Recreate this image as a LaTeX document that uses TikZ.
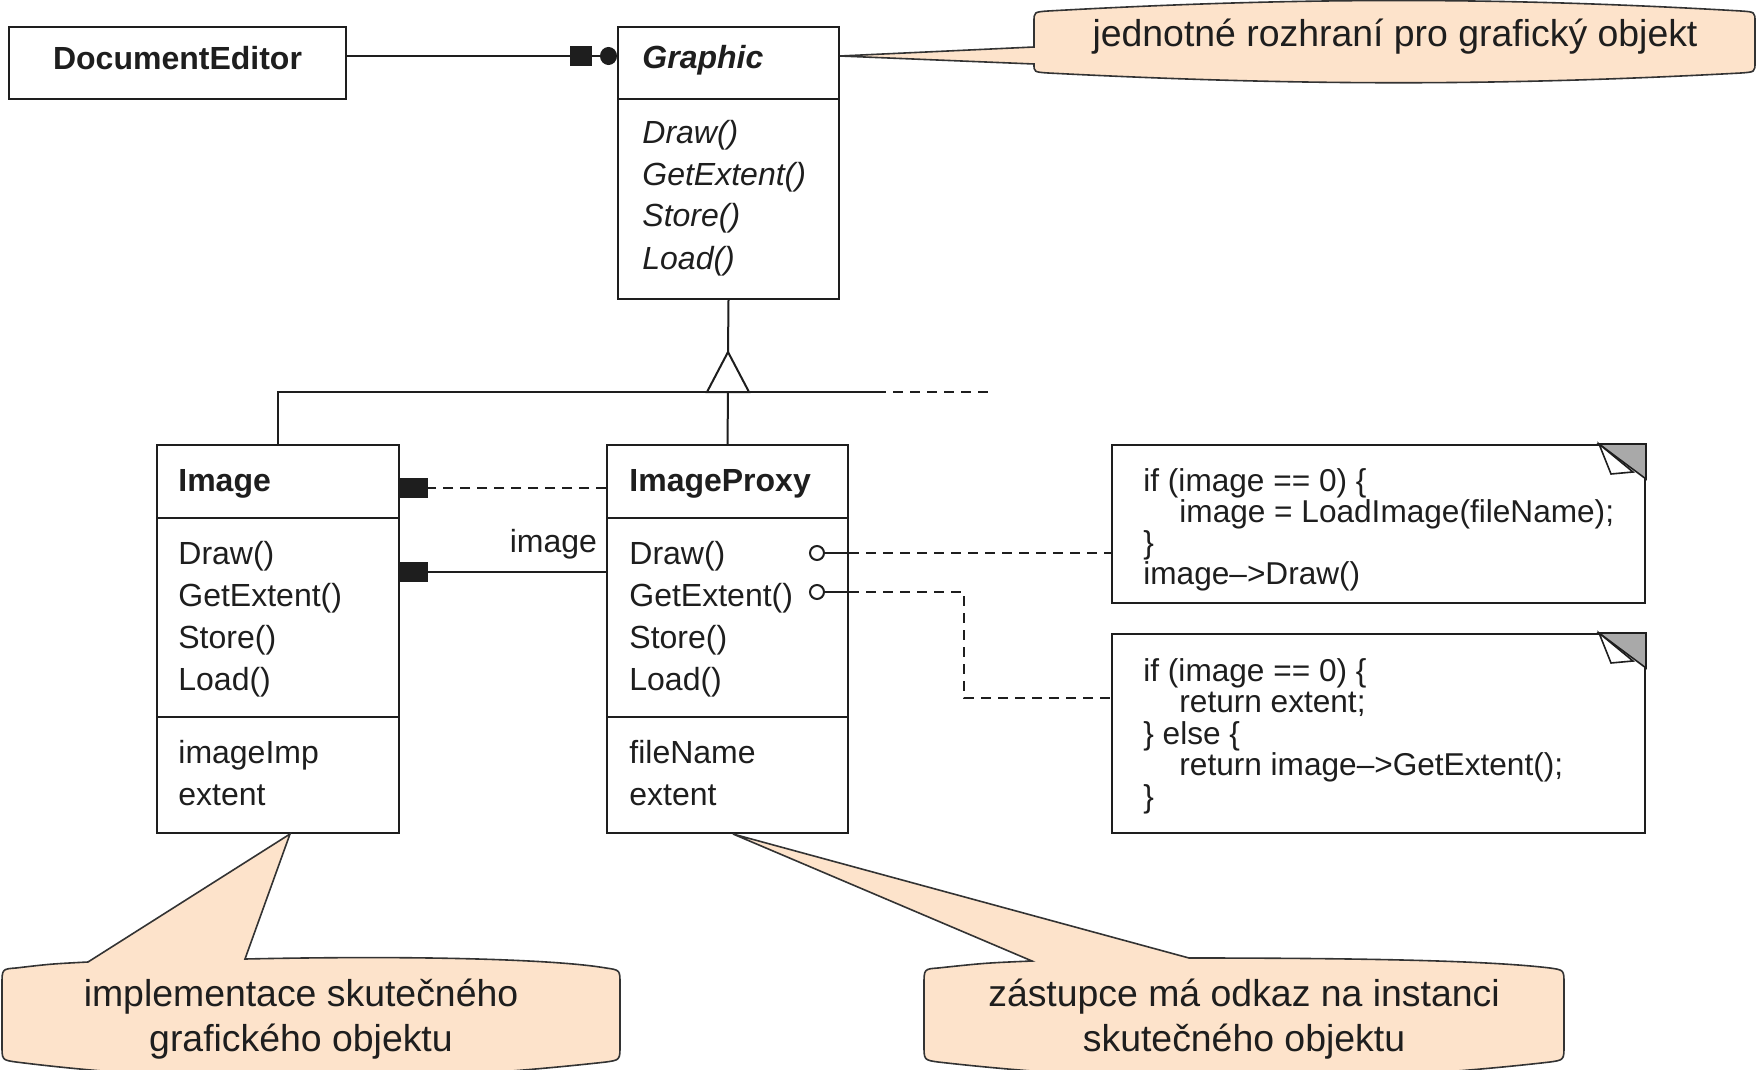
\documentclass[tikz,border=0pt]{standalone}
\usepackage{fontspec}
\setmainfont{Liberation Sans}
\usetikzlibrary{arrows.meta,fit}
\definecolor{umlink}{HTML}{1E1E1E}
\definecolor{calloutfill}{HTML}{FDE3CB}
\definecolor{calloutdraw}{HTML}{333333}
\definecolor{foldgray}{HTML}{A9A9A9}

\begin{document}
\begin{tikzpicture}[
    x=0.5pt, y=-0.5pt,
    every node/.style={text=umlink},
    box/.style={
        draw=umlink,
        line width=1pt,
        inner sep=0pt,
        fit={#1}
    },
    note/.style={
        box={#1},
        fill=white
    },
    member/.style={
        anchor=base west,
        inner sep=0pt,
        font=\fontsize{16}{19}\selectfont
    },
    opname/.style={
        member,
        font=\fontsize{16}{19}\selectfont\itshape
    },
    clsname/.style={
        member,
        font=\fontsize{16}{19}\selectfont\bfseries
    },
    codeline/.style={
        member,
        font=\fontsize{15.8}{18}\selectfont
    },
    lbl/.style={
        inner sep=0pt,
        font=\fontsize{16}{19}\selectfont
    },
    stub/.style={
        circle,
        draw=umlink,
        line width=1pt,
        fill=white,
        minimum size=7pt,
        inner sep=0pt
    },
    assoc/.style={
        draw=umlink,
        line width=1pt
    },
    refarrow/.style={
        assoc,
        -{Square[length=14pt,width=10pt]}
    },
    aggarrow/.style={
        assoc,
        -{Square[length=11pt,width=10pt,sep=4pt] Circle[length=8.5pt,width=9pt]}
    },
    noteline/.style={
        assoc,
        dash pattern=on 5pt off 3.5pt
    },
    calloutbody/.style={
        draw=calloutdraw,
        line width=0.8pt,
        fill=calloutfill
    },
    calltext/.style={
        align=center,
        inner sep=0pt,
        font=\fontsize{18.7}{22.5}\selectfont
    }
]

\path[use as bounding box, fill=white] (0,0) rectangle (1762,1070);

% classes
\node[box={(9,27) (346,99)}] (editor) {};
\node[clsname, anchor=center] (editortitle) at ([yshift=2.5pt]editor.center) {DocumentEditor};

\node[box={(618,27) (839,99)}] (graphic) {};
\node[box={(618,99) (839,299)}] (graphicops) {};
\node[clsname, font=\fontsize{16}{19}\selectfont\bfseries\itshape] (graphictitle) at (642,69) {Graphic};
\foreach \txt [count=\i] in {Draw(), GetExtent(), Store(), Load()}
    \node[opname] (gop\i) at (642,101+42*\i) {\txt};

\node[box={(157,445) (399,518)}] (image) {};
\node[box={(157,518) (399,717)}] (imageops) {};
\node[box={(157,717) (399,833)}] (imageattrs) {};
\node[clsname] (imagetitle) at (178,491) {Image};

\node[box={(607,445) (848,518)}] (proxy) {};
\node[box={(607,518) (848,717)}] (proxyops) {};
\node[box={(607,717) (848,833)}] (proxyattrs) {};
\node[clsname] (proxytitle) at (629,491) {ImageProxy};

\foreach \cls/\x in {image/178, proxy/629} {
    \foreach \txt [count=\i] in {Draw(), GetExtent(), Store(), Load()}
        \node[member] (\cls op\i) at (\x,522+42*\i) {\txt};
}
\foreach \txt [count=\i] in {imageImp, extent}
    \node[member] (imageattr\i) at (178,721+42*\i) {\txt};
\foreach \txt [count=\i] in {fileName, extent}
    \node[member] (proxyattr\i) at (629,721+42*\i) {\txt};

% notes
\node[note={(1112,445) (1645,603)}] (drawnote) {};
\node[note={(1112,634) (1645,833)}] (extentnote) {};
\foreach \n in {drawnote, extentnote} {
    \filldraw[fill=foldgray, draw=umlink, line width=0.8pt]
        ([xshift=-23.5pt]\n.north east) -- (\n.north east) -- ([yshift=-17.5pt]\n.north east) -- cycle;
    \filldraw[fill=white, draw=umlink, line width=0.8pt]
        ([xshift=-23.5pt]\n.north east) -- ([xshift=-17.5pt,yshift=-15pt]\n.north east)
        -- ([xshift=-6.5pt,yshift=-14pt]\n.north east) -- cycle;
}
\foreach \txt [count=\i] in {if (image == 0) \{, \hspace*{18pt}image = LoadImage(fileName);, \}, image-->Draw()}
    \node[codeline] (drawcode\i) at (1143,459.7+31.3*\i) {\txt};
\foreach \txt [count=\i] in {if (image == 0) \{, \hspace*{18pt}return extent;, \} else \{, \hspace*{18pt}return image-->GetExtent();, \}}
    \node[codeline] (extentcode\i) at (1143,649.5+31.5*\i) {\txt};

% connectors
\draw[aggarrow] ([yshift=3.5pt]editor.east) -- ([yshift=3.5pt]graphic.west);

\coordinate (apex) at (728,352);
\coordinate (junction) at (728,392);
\coordinate (solidend) at (876,392);
\coordinate (moreend) at (989,392);
\draw[assoc] (graphicops.south) -- (apex);
\draw[assoc] (image.north) |- (junction) -- (solidend);
\draw[assoc] (proxy.north) -- (junction);
\draw[noteline] (solidend) -- (moreend);
\draw[assoc, fill=white] (apex) -- ++(-21,40) -- ++(42,0) -- cycle;

\draw[refarrow, dash pattern=on 5pt off 3.5pt] ([yshift=-3.25pt]proxy.west) -- ([yshift=-3.25pt]image.east);
\draw[refarrow] ([yshift=22.75pt]proxyops.west) -- ([yshift=22.75pt]imageops.east)
    node[lbl, pos=0, anchor=south east, xshift=-4pt, yshift=6pt] (imagelabel) {image};

\node[stub] (drawpin) at (817,553) {};
\node[stub] (extentpin) at (817,592) {};
\coordinate (bend) at (964,698);
\draw[assoc] (drawpin.east) -- (drawpin -| proxyops.east);
\draw[noteline] (drawpin -| proxyops.east) -- (drawpin -| drawnote.west);
\draw[assoc] (extentpin.east) -- (extentpin -| proxyops.east);
\draw[noteline] (extentpin -| proxyops.east) -| (bend) -- (bend -| extentnote.west);

% callouts
\path[calloutbody] (1034,47) -- ([yshift=3.5pt]graphic.east) -- (1034,64)
    .. controls (1034,72) .. (1048,73)
    .. controls (1300,86) and (1500,86) .. (1741,73)
    .. controls (1755,72) .. (1755,62) -- (1755,22)
    .. controls (1755,12) .. (1741,11)
    .. controls (1500,-3) and (1300,-3) .. (1048,11)
    .. controls (1034,12) .. (1034,22) -- cycle;
\node[calltext] (topnote) at (1395,37) {jednotné rozhraní pro grafický objekt};

\path[calloutbody] (2,985) .. controls (2,969) .. (16,968)
    .. controls (50,964) .. (88,962) -- ([xshift=6pt]imageattrs.south) -- (245,959)
    .. controls (430,955) and (560,960) .. (606,968)
    .. controls (620,970) .. (620,984) -- (620,1045)
    .. controls (620,1060) .. (606,1062)
    .. controls (400,1085) and (200,1085) .. (16,1062)
    .. controls (2,1060) .. (2,1045) -- cycle;
\node[calltext] (leftnote) at (301,1019) {implementace skutečného\\grafického objektu};

\path[calloutbody] (924,985) .. controls (924,969) .. (938,968)
    .. controls (985,963) .. (1032,961) -- ([xshift=2.75pt]proxyattrs.south) -- (1189,958)
    .. controls (1400,958) and (1500,962) .. (1550,968)
    .. controls (1564,970) .. (1564,984) -- (1564,1045)
    .. controls (1564,1060) .. (1550,1062)
    .. controls (1350,1085) and (1140,1085) .. (938,1062)
    .. controls (924,1060) .. (924,1045) -- cycle;
\node[calltext] (rightnote) at (1244,1019) {zástupce má odkaz na instanci\\skutečného objektu};

\end{tikzpicture}
\end{document}
